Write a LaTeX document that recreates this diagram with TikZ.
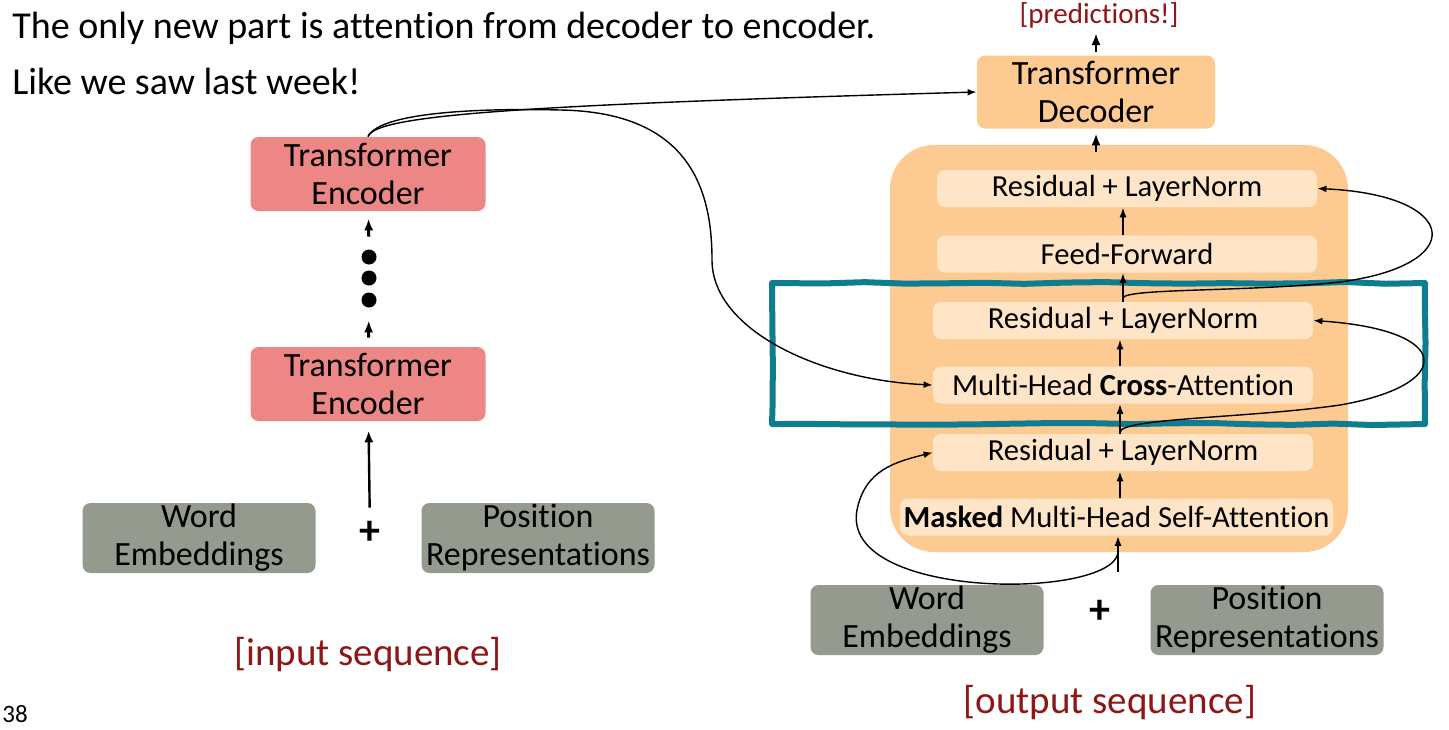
\documentclass[tikz,border=0pt]{standalone}
\usepackage{fontspec}
\setmainfont{Carlito}[Ligatures=NoCommon]
\usetikzlibrary{arrows.meta,decorations.pathmorphing}
\definecolor{encpink}{RGB}{237,135,133}
\definecolor{decorange}{RGB}{253,203,145}
\definecolor{sublayer}{RGB}{255,229,199}
\definecolor{embgray}{RGB}{148,154,142}
\definecolor{hiteal}{RGB}{16,124,144}
\definecolor{seqred}{RGB}{142,22,22}
\tikzset{block/.style = {shape=rectangle, rounded corners=4pt, inner sep=0, align=center, font=\fontsize{17}{19}\selectfont}}
\tikzset{encoder/.style = {block, fill=encpink, minimum width=117.5pt, minimum height=37pt}}
\tikzset{decoder/.style = {block, fill=decorange, minimum width=119pt, minimum height=36.5pt}}
\tikzset{embed/.style = {block, fill=embgray, minimum width=116.5pt, minimum height=35pt}}
\tikzset{sub/.style = {shape=rectangle, rounded corners=4pt, inner sep=0, fill=sublayer, minimum width=190pt, minimum height=18.5pt, font=\fontsize{15.3}{17}\selectfont}}
\tikzset{stack/.style = {shape=rectangle, rounded corners=22pt, fill=decorange, minimum width=229pt, minimum height=203.5pt}}
\tikzset{highlight/.style = {shape=rectangle, draw=hiteal, line width=3pt, line join=round, minimum width=326.5pt, minimum height=70.5pt, decorate, decoration={random steps, segment length=20pt, amplitude=0.6pt}}}
\tikzset{dot/.style = {shape=circle, fill=black, inner sep=0, minimum size=7.5pt}}
\tikzset{plus/.style = {shape=rectangle, inner sep=0, minimum size=20pt, font=\fontsize{21}{23}\selectfont\bfseries}}
\tikzset{seq/.style = {text=seqred, inner sep=0, font=\fontsize{19.5}{22}\selectfont}}
\tikzset{edge/.style = {->,> = {Latex[length=5pt, width=3.6pt]}, line width=0.9pt}}
\tikzset{thickedge/.style = {->,> = {Latex[length=6pt, width=4.6pt]}, line width=1.5pt}}
\tikzset{loop/.style = {->,> = {Latex[length=4.5pt, width=3.4pt]}, line width=0.7pt}}

\begin{document}
\begin{tikzpicture}[x=0.5pt, y=-0.5pt]
          \useasboundingbox (0,0) rectangle (1449,729);
          \pgfmathsetseed{11}

          % text at the top
          \node[anchor=base west, inner sep=0, font=\fontsize{19}{22}\selectfont] (T1) at (12,38) {The only new part is attention from decoder to encoder.};
          \node[anchor=base west, inner sep=0, font=\fontsize{19}{22}\selectfont] (T2) at (12,94) {Like we saw last week!};
          \node[anchor=base west, inner sep=0, font=\fontsize{12.5}{14}\selectfont] (PG) at (2,722) {38};

          % encoder side
          \node[encoder] (E2) at (368,174) {Transformer\\Encoder};
          \node[encoder] (E1) at (368,384) {Transformer\\Encoder};
          \node[dot] (D1) at (369,257) {};
          \node[dot] (D2) at (369,278) {};
          \node[dot] (D3) at (369,300) {};
          \node[embed] (W1) at (199,538) {Word\\Embeddings};
          \node[plus] (P1) at (370,533) {+};
          \node[embed] (R1) at (538,538) {Position\\Representations};
          \node[seq] (IN) at (368,655) {[input sequence]};

          % decoder side
          \node[stack] (S) at (1119,348.5) {};
          \node[decoder] (DEC) at (1096,92) {Transformer\\Decoder};
          \node[seq, anchor=base, font=\fontsize{14.5}{16}\selectfont] (PR) at (1099,23) {[predictions!]};
          \node[sub] (RN3) at (1127,188.5) {Residual + LayerNorm};
          \node[sub] (FF) at (1127,254) {Feed-Forward};
          \node[sub] (RN2) at (1123,320.5) {Residual + LayerNorm};
          \node[sub] (CA) at (1123,385) {Multi-Head \textbf{Cross}-Attention};
          \node[sub] (RN1) at (1123,452.5) {Residual + LayerNorm};
          \node[sub, minimum width=216.5pt] (MSA) at (1116.5,517) {\textbf{Masked} Multi-Head Self-Attention};
          \node[highlight] (HL) at (1098.5,353.5) {};
          \node[embed] (W2) at (927,620) {Word\\Embeddings};
          \node[plus] (P2) at (1100,612) {+};
          \node[embed] (R2) at (1267,620) {Position\\Representations};
          \node[seq] (OUT) at (1110,703) {[output sequence]};

          \coordinate (IN2) at (1118,572);
          \coordinate (B1) at (1118,553);
          \coordinate (B2) at (1120,432);
          \coordinate (B3) at (1123,298);

          % encoder arrows
          \path[thickedge] (D1) edge [shorten <=6.25pt, shorten >=3.5pt] (E2);
          \path[thickedge] (E1) edge [shorten <=4.5pt, shorten >=6.25pt] (D3);
          \path[thickedge, line width=1.2pt] (P1) edge [shorten <=2.5pt, shorten >=4.5pt] (E1);

          % decoder arrows
          \draw[edge] (IN2) -- (MSA.south -| IN2);
          \draw[edge] (MSA.north -| B2) -- (RN1.south -| B2);
          \draw[edge] (RN1.north -| B2) -- (CA.south -| B2);
          \draw[edge] (CA.north -| B2) -- (RN2.south -| B2);
          \draw[edge] (RN2.north -| B3) -- (FF.south -| B3);
          \draw[edge] (FF.north -| B3) -- (RN3.south -| B3);
          \draw[thickedge, line width=1.2pt, shorten <=-3.5pt, shorten >=2.25pt] (S.north -| DEC) -- (DEC);
          \draw[thickedge, line width=1.2pt, shorten <=1.75pt, shorten >=2.5pt] (DEC.north) -- (DEC.north |- PR.south);

          % residual loops
          \draw[loop] (B1) .. controls (1110,600) and (840,600) .. (857,510) .. controls (865,470) and (895,462) .. (RN1.west);
          \draw[loop] (B2) .. controls (1122,418) and (1250,418) .. (1340,405) .. controls (1455,385) and (1455,330) .. (RN2.east);
          \draw[loop] (B3) .. controls (1125,288) and (1250,292) .. (1340,282) .. controls (1470,265) and (1460,195) .. (RN3.east);

          % encoder to decoder
          \draw[loop] (E2.north) .. controls (375,115) and (520,105) .. (DEC.west);
          \draw[loop] (E2.north) .. controls (380,112) and (480,108) .. (560,110) .. controls (690,112) and (712,190) .. (712,260) .. controls (712,330) and (820,380) .. (CA.west);
        \end{tikzpicture}
\end{document}
